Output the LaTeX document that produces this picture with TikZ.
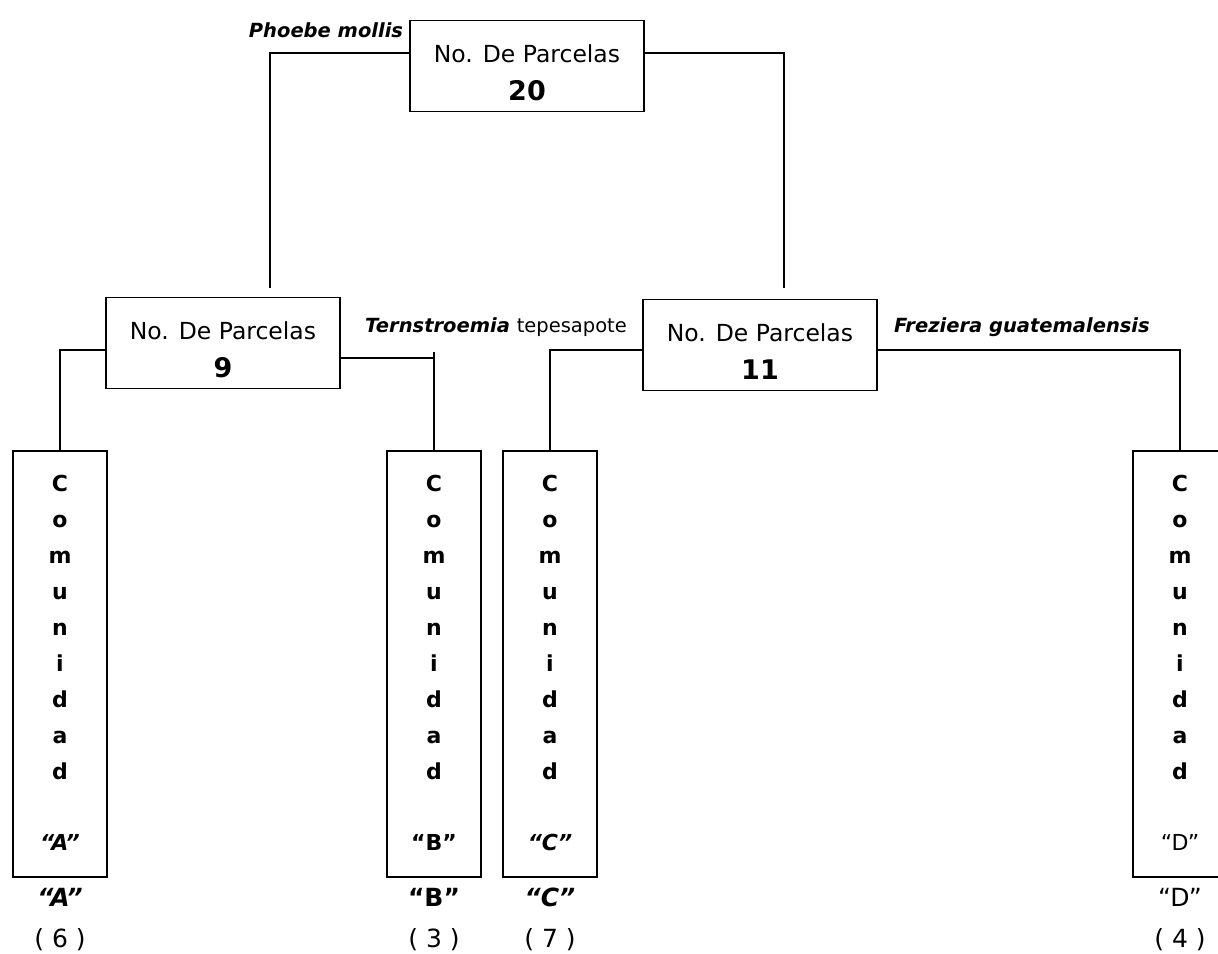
\documentclass[tikz,border=0pt]{standalone}
\usepackage{fontspec}
\setmainfont{DejaVu Sans}
\newcommand{\alto}{\rule{0pt}{31pt}}
\begin{document}
\begin{tikzpicture}[x=1pt,y=-1pt,line width=1.6pt,
  parcela/.style={draw,fill=white,minimum width=234pt,minimum height=91pt,inner sep=0pt,align=center,font=\fontsize{23.5}{38}\selectfont},
  comu/.style={draw,minimum width=94pt,minimum height=426pt,inner sep=0pt},
  letra/.style={anchor=base,font=\fontsize{22}{24}\selectfont\bfseries},
  especie/.style={inner sep=0pt,font=\fontsize{19.5}{22}\selectfont\bfseries\itshape},
  pie/.style={anchor=base,font=\fontsize{25}{28}\selectfont}]
\clip (0,0) rectangle (1218,953);

% cajas de parcelas
\node[parcela] (p20) at (527,66) {\alto No. De Parcelas\\\textbf{\fontsize{27}{38}\selectfont 20}};
\node[parcela] (p9) at (223,343) {\alto No. De Parcelas\\\textbf{\fontsize{27}{38}\selectfont 9}};
\node[parcela] (p11) at (760,345) {\alto No. De Parcelas\\\textbf{\fontsize{27}{38}\selectfont 11}};

% especies
\node[especie] (phoebe) at (326,30) {Phoebe mollis};
\node[especie] (terns) at (496,327) {Ternstroemia \mdseries\upshape tepesapote};
\node[especie] (frez) at (1022,327) {Freziera guatemalensis};

% comunidades
\foreach \n/\x/\f/\c in {A/60/\bfseries\itshape/6, B/434/\bfseries/3, C/550/\bfseries\itshape/7, D/1180/\mdseries/4}{
  \node[comu] (c\n) at (\x,664) {};
  \foreach \l [count=\i from 0] in {C,o,m,u,n,i,d,a,d}
    \node[letra] at (\x,491+36*\i) {\l};
  \node[letra] (q\n) at (\x,850) {\f “\n”};
  \node[letra,font=\fontsize{25}{28}\selectfont] (e\n) at (\x,906) {\f “\n”};
  \node[pie] (n\n) at (\x,947) {( \c\ )};
}

% conectores
\coordinate (t9) at (270,288);
\coordinate (t11) at (784,288);
\draw (p20.west |- 0,53) -| (t9);
\draw (p20.east |- 0,53) -| (t11);
\draw (p9.west |- 0,350) -| (cA.north);
\draw (p9.east |- 0,358) -- (cB.north |- 0,358) (cB.north |- 0,352) -- (cB.north);
\draw (p11.west |- 0,350) -| (cC.north);
\draw (p11.east |- 0,350) -| (cD.north);
\end{tikzpicture}
\end{document}
